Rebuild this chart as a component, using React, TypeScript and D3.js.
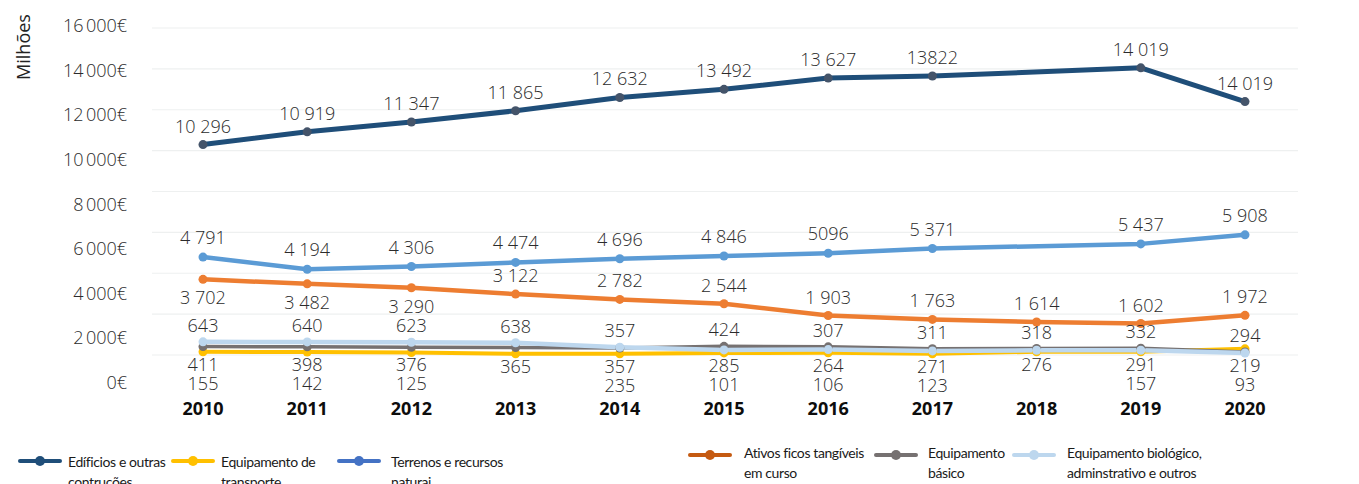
import React from "react";
import * as d3 from "d3";

// ---------- data ----------
const years = ["2010", "2011", "2012", "2013", "2014", "2015", "2016", "2017", "2018", "2019", "2020"];
const yTicks = [0, 2000, 4000, 6000, 8000, 10000, 12000, 14000, 16000];

// plotted values
const edificios = [10296, 10919, 11400, 11950, 12600, 13000, 13550, 13650, null, 14050, 12400];
const terrenos = [4791, 4194, 4330, 4530, 4710, 4846, 4980, 5210, null, 5437, 5880];
const ativos = [3702, 3482, 3290, 2980, 2720, 2510, 1930, 1740, 1614, 1540, 1940];
const biologico = [643, 640, 623, 600, 380, 250, 264, 200, 230, 230, 100];
const basico = [411, 398, 376, 365, 340, 424, 400, 311, 318, 332, 150];
const transporte = [155, 142, 125, 60, 60, 101, 106, 60, 160, 157, 300];

// data label texts as printed on the chart
const edificiosLabels = ["10 296", "10 919", "11 347", "11 865", "12 632", "13 492", "13 627", "13822", null, "14 019", "14 019"];
const terrenosLabels = ["4 791", "4 194", "4 306", "4 474", "4 696", "4 846", "5096", "5 371", null, "5 437", "5 908"];
const ativosLabels = ["3 702", "3 482", "3 290", "3 122", "2 782", "2 544", "1 903", "1 763", "1 614", "1 602", "1 972"];
const biologicoLabels = ["643", "640", "623", "638", "357", "285", "264", "271", "276", "291", "219"];
const basicoLabels = ["411", "398", "376", "365", "357", "424", "307", "311", "318", "332", "294"];
const transporteLabels = ["155", "142", "125", null, "235", "101", "106", "123", null, "157", "93"];

const ativosLabelsBelowYears = ["2010", "2011", "2012"];

// ---------- layout ----------
const W = 1359;
const H = 484;
const x = d3.scalePoint<string>().domain(years).range([203, 1245]);
const y = d3.scaleLinear().domain([0, 16000]).range([355, 28]);
const yLabel = d3.scaleLinear().domain([0, 16000]).range([389, 32]);
const gridX0 = 152;
const gridX1 = 1298;

const FONT = "'Open Sans', 'DejaVu Sans', sans-serif";
const LFONT = "Lato, 'Open Sans', sans-serif";
const fmtTick = (v: number) => (v === 0 ? "0€" : d3.format(",")(v).replace(",", "\u202f") + "€");

type Pt = { year: string; v: number };
const pts = (vals: (number | null)[]): Pt[] =>
  vals.map((v, i) => ({ year: years[i], v: v as number })).filter((d) => d.v !== null && d.v !== undefined);

const line = d3
  .line<Pt>()
  .x((d) => x(d.year) as number)
  .y((d) => y(d.v));

const series = [
  { key: "edificios", vals: edificios, color: "#1F4E79", marker: "#44546A", width: 5, r: 4.5 },
  { key: "terrenos", vals: terrenos, color: "#5B9BD5", marker: "#5B9BD5", width: 4.5, r: 4.5 },
  { key: "ativos", vals: ativos, color: "#ED7D31", marker: "#ED7D31", width: 4.5, r: 4.5 },
  { key: "biologico", vals: biologico, color: "#BDD7EE", marker: "#BDD7EE", width: 4.5, r: 4.5 },
  { key: "basico", vals: basico, color: "#767171", marker: "#767171", width: 3.5, r: 4.5 },
  { key: "transporte", vals: transporte, color: "#FFC000", marker: "#FFC000", width: 4, r: 4.5 },
];

const legendItems = [
  { lines: ["Edíficios e outras", "contruções"], color: "#1F4E79", lx: 20, tx: 68, ly: 461, ty: 467 },
  { lines: ["Equipamento de", "transporte"], color: "#FFC000", lx: 173, tx: 221, ly: 461, ty: 467 },
  { lines: ["Terrenos e recursos", "naturai"], color: "#4472C4", lx: 339, tx: 391, ly: 461, ty: 467 },
  { lines: ["Ativos ficos tangíveis", "em curso"], color: "#C55A11", lx: 690, tx: 744, ly: 455, ty: 458 },
  { lines: ["Equipamento", "básico"], color: "#767171", lx: 876, tx: 928, ly: 455, ty: 458 },
  { lines: ["Equipamento biológico,", "adminstrativo e outros"], color: "#BDD7EE", lx: 1014, tx: 1067, ly: 455, ty: 458 },
];

export default function App() {
  const labelStyle = { fontFamily: FONT, fontSize: 18, fontWeight: 300, fill: "#2b2b2b" } as const;

  // lower cluster labels
  const lowerLabels: { x: number; y: number; t: string }[] = [];
  years.forEach((yr, i) => {
    const yb = y(biologico[i]);
    const yg = y(basico[i]);
    const yt = y(transporte[i]);
    const above = Math.min(yb, yg) - 10;
    const below1 = Math.max(yb, yg, yt) + 19;
    const below2 = below1 + 19;
    const bioTop = biologico[i] >= basico[i];
    const cx = x(yr) as number;
    const topT = bioTop ? biologicoLabels[i] : basicoLabels[i];
    const midT = bioTop ? basicoLabels[i] : biologicoLabels[i];
    if (topT) lowerLabels.push({ x: cx, y: above, t: topT });
    if (midT) lowerLabels.push({ x: cx, y: below1, t: midT });
    if (transporteLabels[i]) lowerLabels.push({ x: cx, y: midT ? below2 : below1, t: transporteLabels[i] as string });
  });

  return (
    <svg
      width={W}
      height={H}
      style={{ position: "absolute", left: 0, top: 0, background: "#fff", overflow: "hidden" }}
    >
      {/* gridlines */}
      {yTicks.map((t) => (
        <line key={"g" + t} x1={gridX0} x2={gridX1} y1={y(t)} y2={y(t)} stroke="#EEF0F0" strokeWidth={1.2} />
      ))}
      {/* y tick labels */}
      {yTicks.map((t) => (
        <text key={"t" + t} x={127} y={yLabel(t)} textAnchor="end" style={labelStyle}>
          {fmtTick(t)}
        </text>
      ))}
      {/* y title */}
      <text transform="translate(30,47) rotate(-90)" textAnchor="middle" style={{ fontFamily: FONT, fontSize: 18, fill: "#222" }}>
        Milhões
      </text>

      {/* lines, drawn bottom series first */}
      {[...series].reverse().map((s) => (
        <path
          key={s.key}
          d={line(pts(s.vals)) || ""}
          fill="none"
          stroke={s.color}
          strokeWidth={s.width}
          strokeLinejoin="round"
          strokeLinecap="round"
        />
      ))}
      {[...series].reverse().map((s) =>
        pts(s.vals).map((d) => (
          <circle key={s.key + d.year} cx={x(d.year)} cy={y(d.v)} r={s.r} fill={s.marker} />
        ))
      )}

      {/* data labels: upper series */}
      {years.map((yr, i) =>
        edificiosLabels[i] && edificios[i] !== null ? (
          <text key={"el" + yr} x={x(yr)} y={y(edificios[i] as number) - 12} textAnchor="middle" style={labelStyle}>
            {edificiosLabels[i]}
          </text>
        ) : null
      )}
      {years.map((yr, i) =>
        terrenosLabels[i] && terrenos[i] !== null ? (
          <text key={"tl" + yr} x={x(yr)} y={y(terrenos[i] as number) - 13} textAnchor="middle" style={labelStyle}>
            {terrenosLabels[i]}
          </text>
        ) : null
      )}
      {years.map((yr, i) => (
        <text
          key={"al" + yr}
          x={x(yr)}
          y={y(ativos[i]) + (ativosLabelsBelowYears.includes(yr) ? 25 : -12)}
          textAnchor="middle"
          style={labelStyle}
        >
          {ativosLabels[i]}
        </text>
      ))}
      {lowerLabels.map((l, i) => (
        <text key={"ll" + i} x={l.x} y={l.y} textAnchor="middle" style={labelStyle}>
          {l.t}
        </text>
      ))}

      {/* x axis year labels */}
      {years.map((yr) => (
        <text
          key={"x" + yr}
          x={x(yr)}
          y={415}
          textAnchor="middle"
          style={{ fontFamily: FONT, fontSize: 18, fontWeight: 700, fill: "#0d0d0d" }}
        >
          {yr}
        </text>
      ))}

      {/* legend */}
      {legendItems.map((it) => (
        <g key={it.lines[0]}>
          <line x1={it.lx} x2={it.lx + 40} y1={it.ly} y2={it.ly} stroke={it.color} strokeWidth={4} strokeLinecap="round" />
          <circle cx={it.lx + 20} cy={it.ly} r={5} fill={it.color} />
          {it.lines.map((t, k) => (
            <text
              key={k}
              x={it.tx}
              y={it.ty + k * 20}
              style={{ fontFamily: LFONT, fontSize: 14, letterSpacing: -0.4, fill: "#1a1a1a" }}
            >
              {t}
            </text>
          ))}
        </g>
      ))}
    </svg>
  );
}
